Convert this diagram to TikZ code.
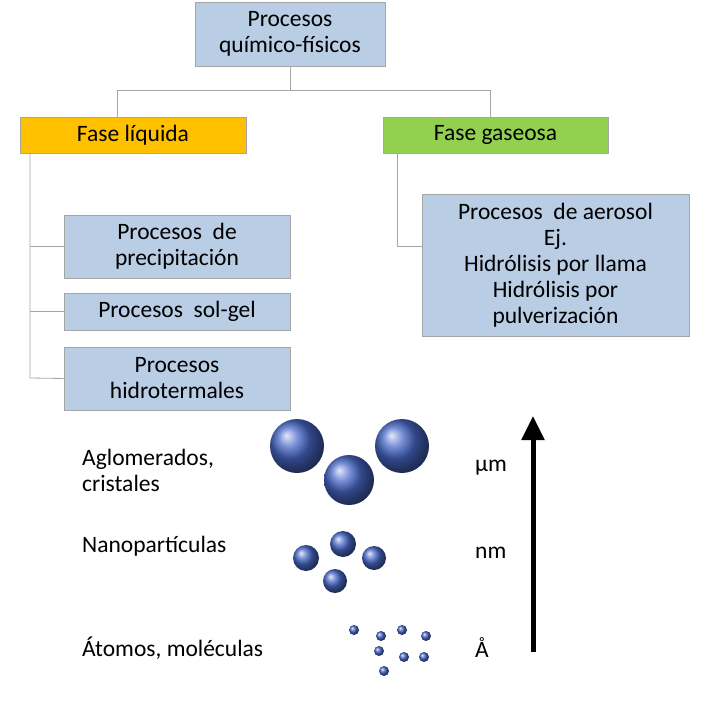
\documentclass[tikz,border=0pt]{standalone}
\usepackage{fontspec}
\setmainfont{Carlito}
\usetikzlibrary{arrows.meta}
\definecolor{boxblue}{HTML}{B9CDE5}
\definecolor{orng}{HTML}{FFC000}
\definecolor{grn}{HTML}{92D050}
\definecolor{ballc}{HTML}{4868C8}
\begin{document}
\begin{tikzpicture}[x=1pt,y=-1pt,
  box/.style={draw=gray!70,line width=0.8pt,fill=boxblue,align=center,font=\fontsize{23.5}{26}\selectfont,inner sep=0pt},
  lbl/.style={anchor=west,align=left,font=\fontsize{23.5}{26}\selectfont,inner sep=0pt},
  con/.style={draw=gray!70,line width=0.8pt},
  ball/.style={ball color=ballc,draw=none}]
\useasboundingbox (0,0) rectangle (718,701);
\fill[white] (0,0) rectangle (718,701);
\node[box,minimum width=190pt,minimum height=64pt] (top) at (290,34) {Procesos\\químico-físicos};
\node[box,fill=orng,minimum width=226pt,minimum height=36pt] (liq) at (133,135) {Fase líquida};
\node[box,fill=grn,minimum width=225pt,minimum height=36pt] (gas) at (495.5,135) {Fase gaseosa};
\node[box,minimum width=226pt,minimum height=63pt] (prec) at (177,246.5) {Procesos\ \ de\\precipitación};
\node[box,minimum width=226pt,minimum height=37pt] (sol) at (177,311.5) {Procesos\ \ sol-gel};
\node[box,minimum width=226pt,minimum height=63pt] (hid) at (177,378.5) {Procesos\\hidrotermales};
\node[box,minimum width=267pt,minimum height=142pt] (aer) at (555.5,265) {Procesos\ \ de aerosol\\Ej.\\Hidrólisis por llama\\Hidrólisis por\\pulverización};
\coordinate (j) at (290,90);
\draw[con] (top.south) -- (j) -- (117,90) -- (117,117);
\draw[con] (j) -- (490,90) -- (490,117);
\draw[con] (30,153) -- (30,378) -- (hid.west);
\draw[con] (30,246.5) -- (prec.west);
\draw[con] (30,311.5) -- (sol.west);
\draw[con] (397,153) -- (397,246) -- (422,246);
\node[lbl] (t1) at (82,470) {Aglomerados,\\cristales};
\node[lbl] (t2) at (82,546) {Nanopartículas};
\node[lbl] (t3) at (82,648) {Átomos, moléculas};
\node[lbl] (u1) at (475,468) {μm};
\node[lbl] (u2) at (475,553) {nm};
\node[lbl] (u3) at (475,648) {Å};
\coordinate (a1) at (533,652);
\coordinate (a2) at (533,416);
\draw[line width=5pt,-{Triangle[length=24pt,width=22pt]}] (a1) -- (a2);
\foreach \x/\y/\r in {297/446/27,402/446/27,349/480/25,306/558/13,343/544/13,374/558/12,335/581/12,
  354/630/5,381/636/5,402/630/5,426/636/5,379/651/5,404/657/5,424/657/5,384/671/5}
  \shade[ball] (\x,\y) circle (\r);
\end{tikzpicture}
\end{document}
